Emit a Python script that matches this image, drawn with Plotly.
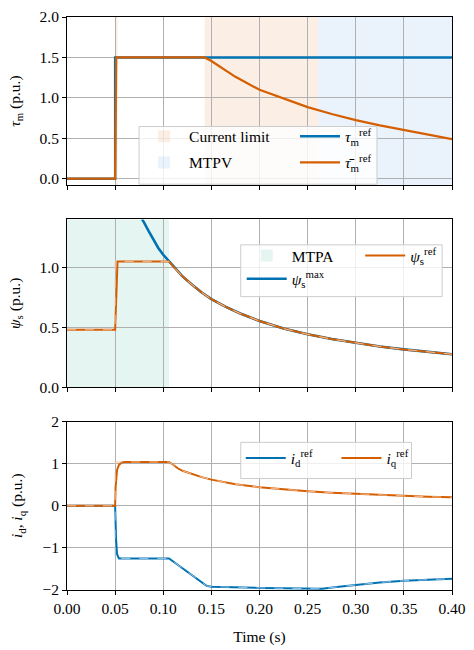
import plotly.graph_objects as go

# ---------------- data ----------------
# Panel 1: torque
t_tau_ref = [0.0, 0.05, 0.05, 0.40]
tau_ref = [0.0, 0.0, 1.5, 1.5]
t_tau_lim = [0.0, 0.05, 0.0512, 0.143, 0.15, 0.16, 0.175, 0.20, 0.225, 0.25,
             0.275, 0.30, 0.325, 0.35, 0.375, 0.40]
tau_lim = [0.0, 0.0, 1.5, 1.5, 1.456, 1.374, 1.26, 1.10, 0.99, 0.886,
           0.80, 0.724, 0.66, 0.602, 0.545, 0.49]
current_limit_spans = [(0.05, 0.0527), (0.143, 0.261)]
mtpv_span = (0.261, 0.40)

# Panel 2: flux
mtpa_span = (0.0, 0.106)
t_psi_max = [0.078, 0.08, 0.085, 0.09, 0.095, 0.10, 0.106, 0.11, 0.12, 0.13,
             0.14, 0.15, 0.165, 0.18, 0.20, 0.225, 0.25, 0.275, 0.30, 0.325,
             0.35, 0.375, 0.40]
psi_max = [1.40, 1.375, 1.30, 1.225, 1.16, 1.105, 1.05, 1.01, 0.925, 0.855,
           0.79, 0.735, 0.67, 0.615, 0.553, 0.49, 0.442, 0.402, 0.368, 0.34,
           0.316, 0.295, 0.276]
t_psi_ref_head = [0.0, 0.05, 0.0525]
psi_ref_head = [0.48, 0.48, 1.05]
t_psi_act_head = [0.0, 0.05, 0.05]
psi_act_head = [0.48, 0.48, 1.05]

# Panel 3: currents
t_id_ref = [0.0, 0.05, 0.051, 0.052, 0.054, 0.106, 0.115, 0.125, 0.135, 0.145,
            0.15, 0.175, 0.20, 0.225, 0.25, 0.265, 0.28, 0.30, 0.325, 0.35,
            0.375, 0.40]
id_ref = [0.0, 0.0, -0.8, -1.15, -1.25, -1.25, -1.40, -1.57, -1.74, -1.90,
          -1.92, -1.94, -1.95, -1.96, -1.97, -1.97, -1.93, -1.88, -1.82, -1.78,
          -1.75, -1.73]
t_id_act = [0.0, 0.05, 0.05, 0.054, 0.106, 0.115, 0.125, 0.135, 0.145,
            0.15, 0.175, 0.20, 0.225, 0.25, 0.265, 0.28, 0.30, 0.325, 0.35,
            0.375, 0.40]
id_act = [0.0, 0.0, -1.27, -1.25, -1.25, -1.40, -1.57, -1.74, -1.90,
          -1.92, -1.94, -1.95, -1.96, -1.97, -1.97, -1.93, -1.88, -1.82, -1.78,
          -1.75, -1.73]
t_iq_ref = [0.0, 0.05, 0.0505, 0.051, 0.052, 0.054, 0.057, 0.06, 0.106, 0.11,
            0.115, 0.12, 0.13, 0.14, 0.15, 0.175, 0.20, 0.225, 0.25, 0.275,
            0.30, 0.325, 0.35, 0.375, 0.40]
iq_ref = [0.0, 0.0, 0.45, 0.65, 0.85, 0.97, 1.03, 1.04, 1.04, 0.98,
          0.89, 0.83, 0.75, 0.68, 0.62, 0.51, 0.44, 0.39, 0.345, 0.31,
          0.28, 0.255, 0.235, 0.215, 0.20]
t_iq_act = [0.0, 0.05, 0.05, 0.106, 0.11, 0.115, 0.12, 0.13, 0.14, 0.15,
            0.175, 0.20, 0.225, 0.25, 0.275, 0.30, 0.325, 0.35, 0.375, 0.40]
iq_act = [0.0, 0.0, 1.04, 1.04, 0.98, 0.89, 0.83, 0.75, 0.68, 0.62,
          0.51, 0.44, 0.39, 0.345, 0.31, 0.28, 0.255, 0.235, 0.215, 0.20]

x_ticks = [0.0, 0.05, 0.10, 0.15, 0.20, 0.25, 0.30, 0.35, 0.40]
y1_ticks = [0.0, 0.5, 1.0, 1.5, 2.0]
y2_ticks = [0.0, 0.5, 1.0]
y3_ticks = [-2, -1, 0, 1, 2]

# ---------------- styling ----------------
BLUE = "#0072B2"
ORANGE = "#D55E00"
BLUE_LIGHT = "rgba(160,200,235,0.95)"
ORANGE_LIGHT = "rgba(245,195,160,0.95)"
FILL_CL = "rgba(213,94,0,0.10)"
FILL_MTPV = "rgba(86,160,233,0.12)"
FILL_MTPA = "rgba(0,158,115,0.10)"
FONT = "Liberation Serif"
FS = 15.5

W, H = 474, 650
ML, MR, MT, MB = 67, 17, 8, 56
PW, PH = W - ML - MR, H - MT - MB


def px_x(px):          # pixel -> paper x
    return (px - ML) / PW


def px_y(py):          # pixel -> paper y
    return (H - MB - py) / PH


# build psi references from the pieces
tail_t = [t for t in t_psi_max if t >= 0.106]
tail_v = [v for t, v in zip(t_psi_max, psi_max) if t >= 0.106]
t_psi_ref = t_psi_ref_head + tail_t
psi_ref = psi_ref_head + tail_v
t_psi_act = t_psi_act_head + tail_t
psi_act = psi_act_head + tail_v

fig = go.Figure()


def line(x, y, color, width, name, legend, ax, dash=None, show=True):
    fig.add_trace(go.Scatter(x=x, y=y, mode="lines",
                             line=dict(color=color, width=width, dash=dash),
                             name=name, legend=legend, legendgroup=name,
                             showlegend=show,
                             xaxis="x" + ax, yaxis="y" + ax))


# Panel 1
line(t_tau_ref, tau_ref, BLUE, 2.4, "<i>τ</i><sub>m</sub><sup>ref</sup>", "legend4", "")
line(t_tau_lim, tau_lim, ORANGE, 2.2, "<i>τ\u0304</i><sub>m</sub><sup>ref</sup>", "legend4", "")
# Panel 2
line(t_psi_max, psi_max, BLUE, 2.6, "<i>ψ</i><sub>s</sub><sup>max</sup>", "legend2", "2")
line(t_psi_ref, psi_ref, ORANGE, 2.0, "<i>ψ</i><sub>s</sub><sup>ref</sup>", "legend5", "2")
line(t_psi_act, psi_act, ORANGE_LIGHT, 1.0, "psi_act", "legend5", "2", dash="dash", show=False)
# Panel 3
line(t_id_ref, id_ref, BLUE, 2.0, "<i>i</i><sub>d</sub><sup>ref</sup>", "legend3", "3")
line(t_id_act, id_act, BLUE_LIGHT, 1.0, "id_act", "legend3", "3", dash="dash", show=False)
line(t_iq_ref, iq_ref, ORANGE, 2.0, "<i>i</i><sub>q</sub><sup>ref</sup>", "legend6", "3")
line(t_iq_act, iq_act, ORANGE_LIGHT, 1.0, "iq_act", "legend6", "3", dash="dash", show=False)


# shaded regions
def span(x0, x1, color, xref, yref, show, name, legend, rank):
    fig.add_shape(type="rect", x0=x0, x1=x1, y0=0, y1=1, xref=xref, yref=yref,
                  fillcolor=color, line=dict(width=0), layer="below",
                  showlegend=show, name=name, legend=legend, legendrank=rank,
                  legendgroup=name)


for i, (x0, x1) in enumerate(current_limit_spans):
    span(x0, x1, FILL_CL, "x", "y domain", i == 1, "Current limit", "legend", 1)
span(mtpv_span[0], mtpv_span[1], FILL_MTPV, "x", "y domain", True, "MTPV", "legend", 2)
span(mtpa_span[0], mtpa_span[1], FILL_MTPA, "x2", "y2 domain", True, "MTPA", "legend2", 1)

# legend frames (one frame around the two legend columns of each panel)
for (l, t, r, b) in [(140, 120, 381, 179), (243, 241, 447, 294), (243, 443, 416, 480)]:
    fig.add_shape(type="rect", xref="paper", yref="paper",
                  x0=px_x(l), x1=px_x(r), y0=px_y(b), y1=px_y(t),
                  fillcolor="rgba(255,255,255,0.8)",
                  line=dict(color="#cccccc", width=1), layer="above")

axis_common = dict(showline=True, linecolor="black", linewidth=1, mirror=True,
                   ticks="outside", ticklen=4, tickcolor="black", tickwidth=1,
                   showgrid=True, gridcolor="#b0b0b0", gridwidth=1, zeroline=False,
                   tickfont=dict(family=FONT, size=FS, color="black"))

xcommon = dict(axis_common, range=[0, 0.40], tickvals=x_ticks)
fig.update_layout(
    xaxis=dict(xcommon, domain=[0, 1], anchor="y", showticklabels=False),
    xaxis2=dict(xcommon, domain=[0, 1], anchor="y2", showticklabels=False),
    xaxis3=dict(xcommon, domain=[0, 1], anchor="y3", tickformat=".2f",
                title=dict(text="Time (s)", font=dict(family=FONT, size=FS))),
    yaxis=dict(axis_common, domain=[px_y(180), 1.0], anchor="x", range=[-0.08, 2.0],
               tickvals=y1_ticks, tickformat=".1f",
               title=dict(text="<i>τ</i><sub>m</sub> (p.u.)", font=dict(family=FONT, size=FS))),
    yaxis2=dict(axis_common, domain=[px_y(386.7), px_y(215)], anchor="x2", range=[0, 1.4],
                tickvals=y2_ticks, tickformat=".1f",
                title=dict(text="<i>ψ</i><sub>s</sub> (p.u.)", font=dict(family=FONT, size=FS))),
    yaxis3=dict(axis_common, domain=[0, px_y(421.7)], anchor="x3", range=[-2, 2],
                tickvals=y3_ticks, tickformat="d",
                title=dict(text="<i>i</i><sub>d</sub>, <i>i</i><sub>q</sub> (p.u.)",
                           font=dict(family=FONT, size=FS))),
)

legend_common = dict(bgcolor="rgba(0,0,0,0)", borderwidth=0, orientation="v",
                     xanchor="left", yanchor="top", xref="paper", yref="paper",
                     tracegroupgap=3, itemwidth=40,
                     font=dict(family=FONT, size=FS, color="black"))

fig.update_layout(
    legend=dict(legend_common, x=px_x(140), y=px_y(113)),
    legend4=dict(legend_common, x=px_x(298), y=px_y(113)),
    legend2=dict(legend_common, x=px_x(244), y=px_y(235), tracegroupgap=0),
    legend5=dict(legend_common, x=px_x(364), y=px_y(235)),
    legend3=dict(legend_common, x=px_x(243), y=px_y(442)),
    legend6=dict(legend_common, x=px_x(340), y=px_y(442)),
)

fig.update_layout(width=W, height=H,
                  margin=dict(l=ML, r=MR, t=MT, b=MB),
                  plot_bgcolor="white", paper_bgcolor="white",
                  font=dict(family=FONT, size=FS, color="black"))

fig.write_html("out.html", config={"displayModeBar": False},
               post_script="document.body.style.margin='0px';")
